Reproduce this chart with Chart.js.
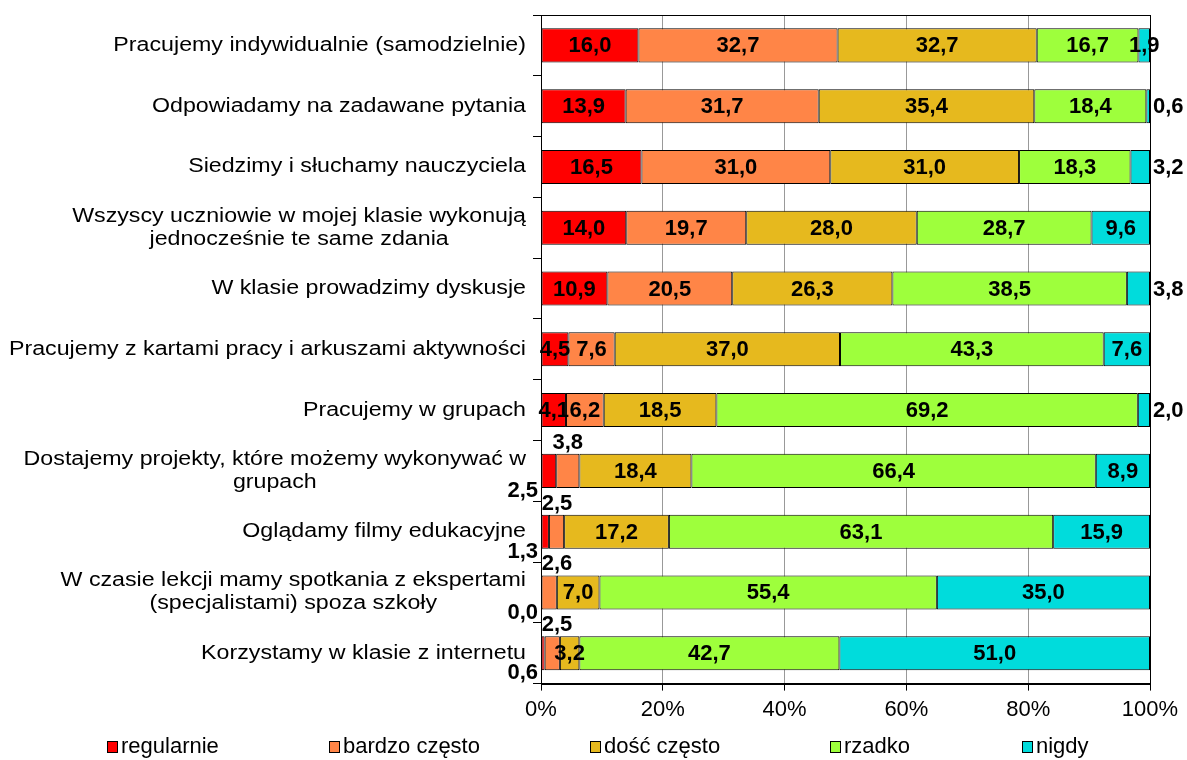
<!DOCTYPE html>
<html>
<head>
<meta charset="utf-8">
<script src="https://cdn.jsdelivr.net/npm/chart.js@4"></script>
<style>
  html, body { margin: 0; padding: 0; background: #fff; }
  #wrap { width: 1187px; height: 760px; }
</style>
</head>
<body>
<div id="wrap"><canvas id="chart" width="1187" height="760"></canvas></div>
<script>
// Kategorie (oś Y)
const categories = [
    'Pracujemy indywidualnie (samodzielnie)',
    'Odpowiadamy na zadawane pytania',
    'Siedzimy i słuchamy nauczyciela',
    ['Wszyscy uczniowie w mojej klasie wykonują', 'jednocześnie te same zdania'],
    'W klasie prowadzimy dyskusje',
    'Pracujemy z kartami pracy i arkuszami aktywności',
    'Pracujemy w grupach',
    ['Dostajemy projekty, które możemy wykonywać w', 'grupach'],
    'Oglądamy filmy edukacyjne',
    ['W czasie lekcji mamy spotkania z ekspertami', '(specjalistami) spoza szkoły'],
    'Korzystamy w klasie z internetu'
];

// Wartości serii (%)
const regularnie   = [16.0, 13.9, 16.5, 14.0, 10.9, 4.5, 4.1, 2.5, 1.3, 0.0, 0.6];
const bardzoCzesto = [32.7, 31.7, 31.0, 19.7, 20.5, 7.6, 6.2, 3.8, 2.5, 2.6, 2.5];
const dosćCzesto   = [32.7, 35.4, 31.0, 28.0, 26.3, 37.0, 18.5, 18.4, 17.2, 7.0, 3.2];
const rzadko       = [16.7, 18.4, 18.3, 28.7, 38.5, 43.3, 69.2, 66.4, 63.1, 55.4, 42.7];
const nigdy        = [1.9, 0.6, 3.2, 9.6, 3.8, 7.6, 2.0, 8.9, 15.9, 35.0, 51.0];

const seriesNames = ['regularnie', 'bardzo często', 'dość często', 'rzadko', 'nigdy'];
const seriesColors = ['#FF0000', '#FF8547', '#E6B91E', '#9EFF3C', '#00DCDC'];
const xTicks = [0, 20, 40, 60, 80, 100];

const FONT = 'Arial, "Liberation Sans", sans-serif';
const legendX = [107, 329, 590, 830, 1022]; // pozycje pozycji legendy (jak w oryginale)

// Etykiety wartości na słupkach
const valueLabels = {
    id: 'valueLabels',
    afterDatasetsDraw(chart) {
        const ctx = chart.ctx;
        const area = chart.chartArea;
        ctx.save();
        ctx.font = 'bold 22px ' + FONT;
        ctx.fillStyle = '#000';
        ctx.textBaseline = 'middle';
        chart.data.datasets.forEach((ds, i) => {
            const meta = chart.getDatasetMeta(i);
            meta.data.forEach((bar, j) => {
                const v = ds.data[j];
                const txt = v.toFixed(1).replace('.', ',');
                const left = Math.min(bar.x, bar.base);
                const right = Math.max(bar.x, bar.base);
                const top = bar.y - bar.height / 2;
                const bottom = bar.y + bar.height / 2;
                let x = (left + right) / 2, y = bar.y + 1;
                ctx.textAlign = 'center';
                if (i === 4 && v < 5 && v !== 1.9) {
                    // małe wartości "nigdy" - poza obszarem wykresu
                    ctx.textAlign = 'left';
                    x = area.right + 3;
                } else if (i === 0 && v < 3) {
                    ctx.textAlign = 'right';
                    x = area.left - 3;
                    y = bottom + 3;
                } else if (i === 1 && v < 4) {
                    y = top - 11;
                    x = Math.max(x, area.left + 16);
                }
                ctx.fillText(txt, x, y);
            });
        });
        ctx.restore();
    }
};

// Etykiety kategorii (wyrównane do prawej, wiersze wyśrodkowane)
const categoryLabels = {
    id: 'categoryLabels',
    afterDraw(chart) {
        const ctx = chart.ctx;
        const yScale = chart.scales.y;
        const stretch = 1.16; // tekst w oryginale jest nieco rozciągnięty w poziomie
        ctx.save();
        ctx.font = '20px ' + FONT;
        ctx.fillStyle = '#000';
        ctx.textBaseline = 'middle';
        ctx.textAlign = 'center';
        const rightEdge = chart.chartArea.left - 15;
        const lh = 23;
        categories.forEach((lab, j) => {
            const lines = Array.isArray(lab) ? lab : [lab];
            const w = Math.max(...lines.map(l => ctx.measureText(l).width)) * stretch;
            const cx = rightEdge - w / 2;
            const yc = yScale.getPixelForValue(j);
            lines.forEach((l, k) => {
                ctx.save();
                ctx.translate(cx, yc + (k - (lines.length - 1) / 2) * lh);
                ctx.scale(stretch, 1);
                ctx.fillText(l, 0, 0);
                ctx.restore();
            });
        });
        ctx.restore();
    }
};

// Ramka obszaru wykresu i legenda
const frameAndLegend = {
    id: 'frameAndLegend',
    afterDraw(chart) {
        const ctx = chart.ctx;
        const a = chart.chartArea;
        ctx.save();
        ctx.strokeStyle = '#000';
        ctx.lineWidth = 1;
        ctx.strokeRect(Math.round(a.left) + 0.5, Math.round(a.top) + 0.5,
            Math.round(a.right - a.left), Math.round(a.bottom - a.top));
        ctx.font = '22px ' + FONT;
        ctx.textBaseline = 'middle';
        ctx.textAlign = 'left';
        const ly = 747;
        seriesNames.forEach((name, i) => {
            const lx = legendX[i];
            ctx.fillStyle = seriesColors[i];
            ctx.fillRect(lx, ly - 6, 11, 12);
            ctx.strokeStyle = '#000';
            ctx.strokeRect(lx + 0.5, ly - 5.5, 10, 11);
            ctx.fillStyle = '#000';
            ctx.fillText(name, lx + 14, ly);
        });
        ctx.restore();
    }
};

const seriesData = [regularnie, bardzoCzesto, dosćCzesto, rzadko, nigdy];

new Chart(document.getElementById('chart'), {
    type: 'bar',
    data: {
        labels: categories,
        datasets: seriesData.map((d, i) => ({
            label: seriesNames[i],
            data: d,
            backgroundColor: seriesColors[i],
            borderColor: '#000',
            borderWidth: 1,
            borderSkipped: false,
            barPercentage: 1,
            categoryPercentage: 0.56
        }))
    },
    options: {
        indexAxis: 'y',
        responsive: false,
        animation: false,
        layout: { padding: { top: 15, right: 37, bottom: 31, left: 0 } },
        plugins: {
            legend: { display: false },
            tooltip: { enabled: false }
        },
        scales: {
            x: {
                stacked: true,
                min: 0,
                max: 100,
                afterBuildTicks(scale) {
                    scale.ticks = xTicks.map(v => ({ value: v }));
                },
                ticks: {
                    font: { family: FONT, size: 22 },
                    color: '#000',
                    padding: 6,
                    callback: v => v + '%'
                },
                grid: {
                    color: '#999',
                    tickColor: '#000',
                    tickLength: 7
                },
                border: { color: '#000' }
            },
            y: {
                stacked: true,
                afterFit(scale) { scale.width = 541; },
                ticks: { display: false },
                grid: {
                    offset: true,
                    drawOnChartArea: false,
                    tickColor: '#000',
                    tickLength: 8
                },
                border: { color: '#000' }
            }
        }
    },
    plugins: [valueLabels, categoryLabels, frameAndLegend]
});
</script>
</body>
</html>
